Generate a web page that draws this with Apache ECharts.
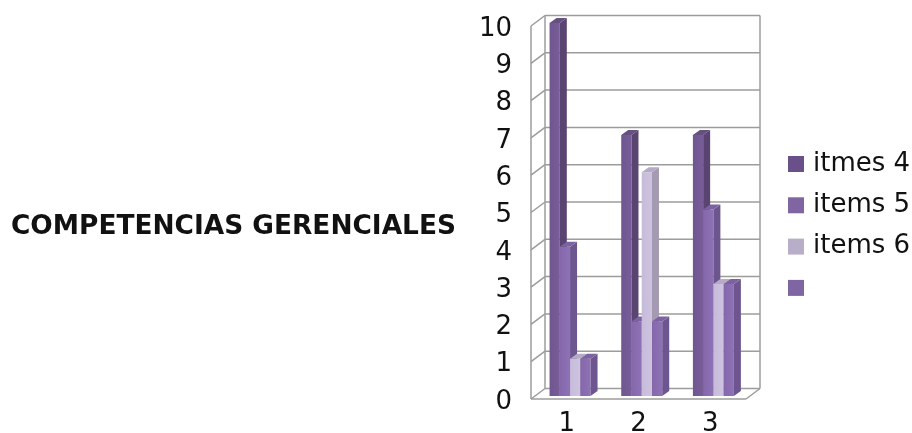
<!DOCTYPE html>
<html>
<head>
<meta charset="utf-8">
<style>html,body{margin:0;padding:0;background:#fff}#chart{width:912px;height:433px}</style>
<script src="https://cdn.jsdelivr.net/npm/echarts@6/dist/echarts.min.js"></script>
</head>
<body>
<div id="chart"></div>
<script>
// Chart content
const chartTitle = 'COMPETENCIAS GERENCIALES';
const categories = ['1', '2', '3'];
const yTicks = [0, 1, 2, 3, 4, 5, 6, 7, 8, 9, 10];
const seriesNames = ['itmes 4', 'items 5', 'items 6', ' '];
const items4 = [10, 7, 7];
const items5 = [4, 2, 5];
const items6 = [1, 6, 3];
const items7 = [1, 2, 3];
const seriesValues = [items4, items5, items6, items7];

// Per-series colours: front face (left/right stops), side face, top face, legend swatch
const palette = [
  { a: '#6f5690', b: '#775e98', side: '#5a4572', top: '#65507f', key: '#6a5088' },
  { a: '#8468aa', b: '#8e72b6', side: '#6d5590', top: '#7c62a0', key: '#8065a3' },
  { a: '#c6bcda', b: '#cec4e0', side: '#a49bb2', top: '#b5abc6', key: '#b8aeca' },
  { a: '#8468aa', b: '#8e72b6', side: '#6d5590', top: '#7c62a0', key: '#8065a3' }
];

// Oblique projection offsets, in pixels, from the axis plane
const WALL_DX = 14, WALL_DY = -10.5;   // back wall
const FRONT_DY = 2;                    // front edge of the floor
const BAR_DX = 0, BAR_DY = -1;         // front face of the bars
const DEPTH_DX = 7, DEPTH_DY = -5;     // depth of a bar
const BAR_START = -0.241, BAR_STEP = 0.143; // fractions of a category band
const LINE = '#9c9c9c';

function line(x1, y1, x2, y2) {
  return {
    type: 'line', silent: true,
    shape: { x1, y1, x2, y2 },
    style: { stroke: LINE, lineWidth: 1.5 }
  };
}

function renderTick(params, api) {
  const c = params.coordSys;
  const y = api.coord([0, api.value(0)])[1];
  const left = c.x, right = c.x + c.width;
  const kids = [
    line(left + WALL_DX, y + FRONT_DY + WALL_DY, right + WALL_DX, y + FRONT_DY + WALL_DY),
    line(left, y + FRONT_DY, left + WALL_DX, y + FRONT_DY + WALL_DY)
  ];
  if (api.value(0) === 0) {
    kids.push(line(left, y + FRONT_DY, right, y + FRONT_DY));
    kids.push(line(right, y + FRONT_DY, right + WALL_DX, y + FRONT_DY + WALL_DY));
  }
  if (api.value(0) === yTicks[yTicks.length - 1]) {
    const y0 = api.coord([0, 0])[1];
    kids.push(line(left, y + FRONT_DY, left, y0 + FRONT_DY));
    kids.push(line(left + WALL_DX, y + FRONT_DY + WALL_DY, left + WALL_DX, y0 + FRONT_DY + WALL_DY));
    kids.push(line(right + WALL_DX, y + FRONT_DY + WALL_DY, right + WALL_DX, y0 + FRONT_DY + WALL_DY));
  }
  return { type: 'group', children: kids };
}

function barRenderer(index) {
  const col = palette[index];
  return function (params, api) {
    const top = api.coord([api.value(0), api.value(1)]);
    const base = api.coord([api.value(0), 0]);
    const band = api.size([1, 0])[0];
    const x0 = top[0] + band * (BAR_START + index * BAR_STEP) + BAR_DX;
    const x1 = x0 + band * BAR_STEP;
    const yT = top[1] + BAR_DY, yB = base[1] + BAR_DY;
    const poly = (points, fill) => ({
      type: 'polygon', shape: { points },
      style: { fill, stroke: null }
    });
    return {
      type: 'group',
      children: [
        poly([[x0, yT], [x1, yT], [x1, yB], [x0, yB]], {
          type: 'linear', x: 0, y: 0, x2: 1, y2: 0,
          colorStops: [{ offset: 0, color: col.a }, { offset: 1, color: col.b }]
        }),
        poly([[x1, yT], [x1 + DEPTH_DX, yT + DEPTH_DY], [x1 + DEPTH_DX, yB + DEPTH_DY], [x1, yB]], col.side),
        poly([[x0, yT], [x0 + DEPTH_DX, yT + DEPTH_DY], [x1 + DEPTH_DX, yT + DEPTH_DY], [x1, yT]], col.top)
      ]
    };
  };
}

const chart = echarts.init(document.getElementById('chart'), null, { renderer: 'canvas' });
chart.setOption({
  animation: false,
  backgroundColor: '#ffffff',
  textStyle: { fontFamily: 'DejaVu Sans' },
  title: {
    text: chartTitle, left: 11, top: 214, padding: 0,
    textStyle: { fontFamily: 'DejaVu Sans', fontWeight: 'bold', fontSize: 26.4, color: '#111' }
  },
  legend: {
    orient: 'vertical', left: 788, top: 151,
    padding: 0, itemWidth: 16, itemHeight: 16, itemGap: 15.3,
    icon: 'rect',
    selectedMode: false,
    data: seriesNames,
    textStyle: { fontFamily: 'DejaVu Sans', fontSize: 26, lineHeight: 26, color: '#111', padding: [0, 0, 0, 4] }
  },
  grid: { left: 531, width: 215, top: 24, height: 373, outerBoundsMode: 'none' },
  xAxis: {
    type: 'category', data: categories,
    axisLine: { show: false }, axisTick: { show: false }, splitLine: { show: false },
    axisLabel: { fontFamily: 'DejaVu Sans', fontSize: 26, color: '#111', margin: 14 }
  },
  yAxis: {
    type: 'value', min: 0, max: 10, interval: 1,
    axisLine: { show: false }, axisTick: { show: false }, splitLine: { show: false },
    axisLabel: { fontFamily: 'DejaVu Sans', fontSize: 26, color: '#111', margin: 19, verticalAlign: 'top', lineHeight: 10 }
  },
  series: [
    {
      type: 'custom', name: 'walls', silent: true, coordinateSystem: 'cartesian2d',
      clip: false, encode: { y: 0 }, data: yTicks.map(v => [v]),
      renderItem: renderTick, z: 1
    }
  ].concat(seriesNames.map((name, i) => ({
    type: 'custom', name, coordinateSystem: 'cartesian2d', clip: false,
    itemStyle: { color: palette[i].key },
    encode: { x: 0, y: 1 },
    data: seriesValues[i].map((v, k) => [k, v]),
    renderItem: barRenderer(i), z: 2
  })))
});
</script>
</body>
</html>
